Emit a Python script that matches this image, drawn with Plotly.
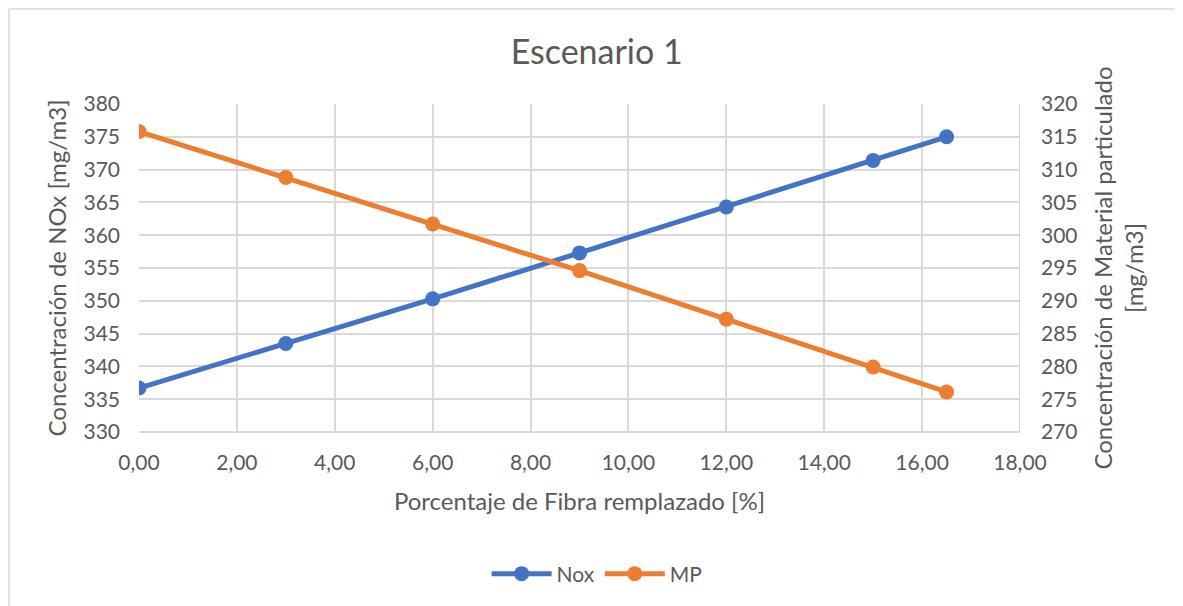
import plotly.graph_objects as go

x_pct = [0, 3, 6, 9, 12, 15, 16.5]
nox = [336.7, 343.5, 350.3, 357.3, 364.3, 371.4, 375.0]
mp = [315.8, 308.8, 301.7, 294.6, 287.2, 279.9, 276.1]

FONT = "Lato"
GRAY = "#595959"
GRID = "#d9d9d9"

W, H = 1175, 598
L, T = 131, 96
PW, PH = 881, 328

fig = go.Figure()
fig.add_trace(go.Scatter(x=x_pct, y=nox, name="Nox", mode="lines+markers",
                         line=dict(color="#4472C4", width=5),
                         marker=dict(size=15, color="#4472C4")))
fig.add_trace(go.Scatter(x=x_pct, y=mp, name="MP", mode="lines+markers", yaxis="y2",
                         line=dict(color="#ED7D31", width=5),
                         marker=dict(size=15, color="#ED7D31")))

fig.update_layout(
    width=W, height=H,
    margin=dict(l=L, r=W - L - PW, t=T, b=H - T - PH),
    paper_bgcolor="white", plot_bgcolor="white",
    separators=",.",
    font=dict(family=FONT, color=GRAY, size=21),
    title=dict(text="Escenario 1", x=0.501, xanchor="center", y=0.926, yanchor="middle",
               font=dict(size=34, color=GRAY, family=FONT)),
    xaxis=dict(range=[0, 18], dtick=2, tickformat=".2f", showgrid=True, gridcolor=GRID,
               gridwidth=2, zeroline=False, showline=False, ticks="", ticklabelstandoff=16,
               title=dict(text="Porcentaje de Fibra remplazado [%]", font=dict(size=24), standoff=20),
               tickfont=dict(size=21)),
    yaxis=dict(range=[330, 380], dtick=5, showgrid=True, gridcolor=GRID, gridwidth=2,
               zeroline=False, showline=False, ticks="", ticklabelstandoff=18,
               title=dict(text="Concentración de NOx [mg/m3]", font=dict(size=24), standoff=10),
               tickfont=dict(size=21)),
    yaxis2=dict(range=[270, 320], dtick=5, overlaying="y", side="right", showgrid=False,
                zeroline=False, showline=False, ticks="", ticklabelstandoff=20,
                title=dict(text="Concentración de Material particulado<br>[mg/m3]", font=dict(size=24), standoff=18),
                tickfont=dict(size=21)),
    legend=dict(orientation="h", x=0.52, xanchor="center", y=-0.433, yanchor="middle",
                font=dict(size=21), itemwidth=60),
    showlegend=True,
)

fig.add_shape(type="line", xref="x", yref="paper", x0=18, x1=18, y0=0, y1=1,
              line=dict(color=GRID, width=2))
fig.add_shape(type="line", xref="paper", yref="paper", x0=0, x1=1, y0=0, y1=0,
              line=dict(color=GRID, width=2))
# outer chart frame: top and left edges only
fx0 = (1 - L) / PW
fy1 = (T - 1) / PH + 1
fig.add_shape(type="line", xref="paper", yref="paper", x0=fx0, x1=(W + 20 - L) / PW,
              y0=fy1, y1=fy1, line=dict(color=GRID, width=1.5), layer="below")
fig.add_shape(type="line", xref="paper", yref="paper", x0=fx0, x1=fx0,
              y0=fy1, y1=(T + PH - H - 20) / PH, line=dict(color=GRID, width=1.5), layer="below")

fig.write_html("out.html")
